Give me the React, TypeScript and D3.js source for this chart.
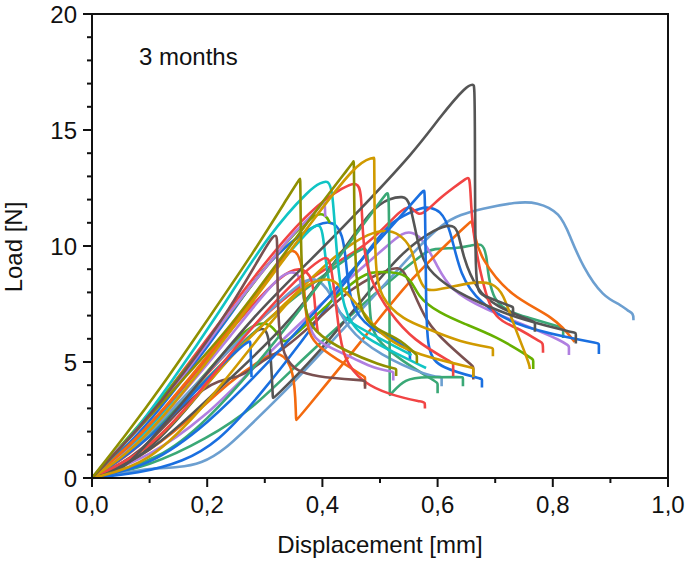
import React from "react";
import * as d3 from "d3";

type P = [number, number];
const xTicks = [0, 0.2, 0.4, 0.6, 0.8, 1.0];
const yTicks = [0, 5, 10, 15, 20];
const xMinor = [0.1, 0.3, 0.5, 0.7, 0.9];
const yMinor = [1,2,3,4,6,7,8,9,11,12,13,14,16,17,18,19];

const lightBlue: P[] = [[0,0],[0.05,0.2],[0.1,0.42],[0.15,0.45],[0.19,0.62],[0.23,1.2],[0.28,2.4],[0.35,4.1],[0.42,6],[0.5,8.1],[0.56,9.8],[0.61,11],[0.64,11.35],[0.674,11.6],[0.738,11.9],[0.772,11.9],[0.813,11.45],[0.83,10.4],[0.852,9.1],[0.887,7.8],[0.92,7.45],[0.93,7.2],[0.94,7.1],[0.94,6.8]];
const lightBlue2: P[] = [[0,0],[0.05,0.8],[0.12,2.4],[0.2,4.6],[0.309,7.24],[0.36,8.4],[0.387,8.7],[0.413,8.1],[0.442,6.4],[0.5,5.3],[0.582,4.4],[0.607,4.35],[0.607,4.35],[0.607,3.95]];
const blueLate: P[] = [[0,0],[0.08,0.2],[0.16,0.7],[0.22,1.6],[0.28,3.2],[0.384,6.5],[0.5,10.56],[0.53,11.2],[0.575,11.7],[0.587,11.64],[0.604,11.55],[0.622,10.8],[0.639,8.67],[0.674,7.54],[0.731,6.6],[0.83,6.03],[0.88,5.8],[0.88,5.8],[0.88,5.35]];
const grayBig: P[] = [[0,0],[0.05,0.3],[0.083,1.1],[0.17,3.6],[0.28,7],[0.384,9.5],[0.465,11.55],[0.561,14.1],[0.604,15.56],[0.651,16.94],[0.662,16.95],[0.664,16.95],[0.665,15],[0.665,8.1],[0.674,7.9],[0.731,7.37],[0.731,7.37],[0.731,7]];
const olive1: P[] = [[0,0],[0.06,1.9],[0.12,3.9],[0.2,6.8],[0.28,9.7],[0.35,12.5],[0.361,12.9],[0.361,12.9],[0.362,12.9],[0.363,7.5],[0.384,6.25],[0.442,5.45],[0.5,4.87],[0.528,4.7],[0.528,4.7],[0.528,4.4]];
const olive2: P[] = [[0,0],[0.08,2.1],[0.16,4.3],[0.24,6.5],[0.32,9.2],[0.4,11.9],[0.45,13.5],[0.454,13.65],[0.454,13.65],[0.455,13.65],[0.456,8],[0.477,6.5],[0.53,6.1],[0.564,5.3],[0.564,5.3],[0.564,4.95]];
const gold1: P[] = [[0,0],[0.06,1],[0.12,2.5],[0.2,5],[0.3,8.3],[0.38,11],[0.46,13.6],[0.488,13.8],[0.49,13.8],[0.49,13.8],[0.491,9],[0.5,7.8],[0.54,6.8],[0.587,6.4],[0.639,5.86],[0.696,5.6],[0.696,5.6],[0.696,5.25]];
const gold2: P[] = [[0,0],[0.08,0.9],[0.16,2.8],[0.24,5.3],[0.34,7.6],[0.425,9.7],[0.483,10.6],[0.517,10.7],[0.54,10.4],[0.557,9.8],[0.564,8.84],[0.575,8.2],[0.587,8],[0.665,8.5],[0.696,8.4],[0.714,7.97],[0.731,6.67],[0.755,5.2],[0.76,4.8],[0.76,4.7]];
const gold3: P[] = [[0,0],[0.1,0.6],[0.2,3.2],[0.3,6.4],[0.367,8.4],[0.413,8.66],[0.43,8.3],[0.465,7.37],[0.49,6.5],[0.523,5.8],[0.57,5.3],[0.627,4.95],[0.662,4.74],[0.662,4.74],[0.662,4.35]];
const brownEarly: P[] = [[0,0],[0.08,2.1],[0.16,4.5],[0.24,7.3],[0.3,9.9],[0.315,10.45],[0.32,10.45],[0.322,10.3],[0.322,6],[0.34,5],[0.355,4.65],[0.384,4.37],[0.474,4.2],[0.474,4.2],[0.474,3.85]];
const brownMid: P[] = [[0,0],[0.08,0.9],[0.17,3.5],[0.222,4.27],[0.257,4.3],[0.304,5.2],[0.33,5.5],[0.378,6.5],[0.453,8.3],[0.523,9.1],[0.54,9.05],[0.555,8.2],[0.581,6.67],[0.616,5.8],[0.662,4.8],[0.662,4.8],[0.662,4.25]];
const cyan1: P[] = [[0,0],[0.06,1.5],[0.14,4.2],[0.22,7.1],[0.309,10.6],[0.382,12.54],[0.396,12.7],[0.41,12.85],[0.418,12.4],[0.424,9.8],[0.436,7.1],[0.465,6.16],[0.517,5.5],[0.58,4.74]];
const cyan2: P[] = [[0,0],[0.08,1.5],[0.16,3.9],[0.24,6.5],[0.32,9.1],[0.37,10.5],[0.387,10.9],[0.396,10.9],[0.401,10.56],[0.408,8.8],[0.42,7.4],[0.44,6.8],[0.5,6],[0.555,5.3]];
const redA: P[] = [[0,0],[0.05,1.3],[0.1,2.7],[0.2,6],[0.3,9.3],[0.38,11.6],[0.44,12.6],[0.46,12.75],[0.468,12.4],[0.47,10],[0.483,8.5],[0.517,7.1],[0.557,5.95],[0.627,4.95],[0.627,4.95],[0.627,4.4]];
const redB: P[] = [[0,0],[0.1,1.2],[0.18,3.5],[0.28,6.6],[0.36,8.7],[0.4,9.5],[0.413,9.55],[0.42,8.2],[0.427,6.7],[0.436,5.1],[0.47,4.1],[0.517,3.58],[0.575,3.27],[0.578,3.27],[0.578,3]];
const redC: P[] = [[0,0],[0.06,1.2],[0.16,3.9],[0.26,7],[0.33,8.8],[0.361,9.1],[0.384,8.75],[0.388,7],[0.392,6.3]];
const red2: P[] = [[0,0],[0.08,1.2],[0.16,3.4],[0.24,5.6],[0.32,7.5],[0.4,9],[0.48,10],[0.54,11.7],[0.555,11.7],[0.566,11.3],[0.581,11.5],[0.604,12.07],[0.627,12.5],[0.651,12.95],[0.655,12.95],[0.657,12.5],[0.66,10.7],[0.679,8.2],[0.7,6.8],[0.738,6.5],[0.778,5.86],[0.783,5.86],[0.783,5.4]];
const blueSharp: P[] = [[0,0],[0.1,0.5],[0.2,2.3],[0.3,4.8],[0.418,8],[0.522,10.9],[0.575,12.4],[0.577,12.4],[0.578,12.2],[0.58,8],[0.581,5.4],[0.604,4.74],[0.677,4.27],[0.677,4.27],[0.677,3.9]];
const blue2: P[] = [[0,0],[0.08,1.8],[0.16,4.3],[0.24,7],[0.3,9.2],[0.37,10.7],[0.416,11.2],[0.436,10.55],[0.442,9.1],[0.448,7.4],[0.483,6.4],[0.52,6.1],[0.549,5.5],[0.552,5.5],[0.552,5.1]];
const blueEarly: P[] = [[0,0],[0.1,1.6],[0.2,4.3],[0.26,5.7],[0.274,5.9],[0.275,5.9],[0.276,5],[0.277,4.35]];
const grayMid: P[] = [[0,0],[0.1,1],[0.2,3.4],[0.338,6.5],[0.425,9.4],[0.488,11.7],[0.517,12.05],[0.54,12.15],[0.552,11.98],[0.566,10],[0.581,8.97],[0.627,8.1],[0.674,7.54],[0.731,6.94],[0.83,6.3],[0.84,6.25],[0.84,6.25],[0.84,5.8]];
const gray2: P[] = [[0,0],[0.08,0.7],[0.16,2.8],[0.257,5.8],[0.297,6.65],[0.309,6.1],[0.314,3.45],[0.314,3.45],[0.316,3.45],[0.384,5.1],[0.483,8.1],[0.54,9.8],[0.6,10.8],[0.622,10.9],[0.635,10.8],[0.644,9.5],[0.668,8.1],[0.7,7.4],[0.769,6.72],[0.769,6.72],[0.769,6.3]];
const orangeMid: P[] = [[0,0],[0.08,1.7],[0.16,4],[0.24,6.5],[0.3,8.4],[0.33,9.5],[0.349,9.95],[0.365,9.4],[0.37,7.5],[0.375,6.16],[0.396,5.6],[0.436,4.95],[0.474,4.35],[0.474,4.35],[0.474,3.95]];
const orangeLong: P[] = [[0,0],[0.08,0.8],[0.16,2.3],[0.24,4.2],[0.3,5.2],[0.326,5.5],[0.352,4.7],[0.354,2.5],[0.355,2.5],[0.356,2.5],[0.488,6.5],[0.549,8.5],[0.659,11.1],[0.659,11.1],[0.665,10.4],[0.674,9.5],[0.726,7.8],[0.804,6.94],[0.838,5.86]];
const green1: P[] = [[0,0],[0.08,2.2],[0.16,4.6],[0.24,7.1],[0.32,9.7],[0.384,11.4],[0.405,11.4],[0.413,11]];
const green2: P[] = [[0,0],[0.08,1.4],[0.16,3.4],[0.252,6.1],[0.286,6.7],[0.309,6.67],[0.326,6.1],[0.332,5.8],[0.349,6.07],[0.41,7.5],[0.47,8.84],[0.5,8.9],[0.552,8.84],[0.564,7.8],[0.604,7.1],[0.644,6.67],[0.703,6.08],[0.755,5.3],[0.766,5.1],[0.766,5.1],[0.766,4.7]];
const purple1: P[] = [[0,0],[0.04,1.2],[0.069,1.7],[0.16,4.4],[0.24,7.2],[0.3,9],[0.35,10.6],[0.39,11.5],[0.403,11.95],[0.404,11.95],[0.405,11.25]];
const purple2: P[] = [[0,0],[0.08,1.4],[0.16,3.7],[0.24,6.1],[0.321,8.66],[0.344,8.9],[0.358,8.84],[0.364,8.3],[0.378,6.25],[0.396,5.8],[0.46,5.1],[0.488,4.74],[0.523,4.57],[0.523,4.57],[0.523,4.2]];
const purple3: P[] = [[0,0],[0.1,0.9],[0.2,2.7],[0.27,4.5],[0.37,6.9],[0.47,9.1],[0.512,10],[0.54,10.6],[0.557,10.6],[0.575,10.3],[0.6,9.1],[0.622,8.1],[0.679,7.3],[0.772,6.38],[0.812,5.95],[0.828,5.7],[0.828,5.7],[0.828,5.3]];
const seaGreen1: P[] = [[0,0],[0.12,0.8],[0.2,2.5],[0.28,4.7],[0.36,7.2],[0.44,9.9],[0.5,11.9],[0.512,12.3],[0.515,12.3],[0.516,11],[0.517,3.58],[0.517,3.58],[0.518,3.58],[0.543,4.3],[0.58,4.35],[0.644,4.35],[0.644,4.35],[0.644,3.95]];
const seaGreen2: P[] = [[0,0],[0.1,0.5],[0.2,1.7],[0.28,3],[0.36,5],[0.465,7.4],[0.575,9.7],[0.592,9.9],[0.634,9.9],[0.656,10],[0.677,10.15],[0.686,9.7],[0.691,7.37],[0.76,6.9],[0.818,6.47],[0.818,6.47],[0.818,6.03]];
const seaGreen3: P[] = [[0,0],[0.08,1.3],[0.16,3.3],[0.24,5.3],[0.32,7.2],[0.4,8.7],[0.47,9.95],[0.479,9.95],[0.481,8],[0.483,6.5],[0.5,5.8],[0.535,5.1],[0.6,4.1],[0.6,4.1],[0.6,3.65]];

const curves: [P[], string][] = [
  [seaGreen2, "#3aa876"], [purple3, "#b07fe0"], [lightBlue, "#6c9fd0"], [orangeLong, "#f36a0f"],
  [blueLate, "#1a6fe0"], [gray2, "#555555"], [red2, "#f14444"], [brownMid, "#7a5050"],
  [green2, "#66b000"], [seaGreen3, "#3aa876"], [gold2, "#d09a00"], [blue2, "#1a6fe0"],
  [cyan2, "#10c4c4"], [lightBlue2, "#6c9fd0"], [grayMid, "#555555"], [redC, "#f14444"], [seaGreen1, "#3aa876"],
  [blueSharp, "#1a6fe0"], [blueEarly, "#1a6fe0"], [purple2, "#b07fe0"], [orangeMid, "#f36a0f"], [redB, "#f14444"], [redA, "#f14444"],
  [grayBig, "#555555"], [green1, "#66b000"], [gold3, "#d09a00"], [purple1, "#b07fe0"], [cyan1, "#10c4c4"],
  [olive2, "#8f8f00"], [gold1, "#d09a00"], [brownEarly, "#7a5050"], [olive1, "#8f8f00"],
];

export default function App() {
  const x = d3.scaleLinear().domain([0, 1]).range([92, 668]);
  const y = d3.scaleLinear().domain([0, 20]).range([478, 14]);
  const line = d3.line<P>().x(d => x(d[0])).y(d => y(d[1])).curve(d3.curveBasis);
  const font = "'Liberation Sans', Arial, sans-serif";
  return (
    <svg width={685} height={561} style={{ position: "absolute", left: 0, top: 0, background: "#fff" }} fontFamily={font} fill="#111">
      {curves.map(([c, col], i) => (
        <path key={i} d={line(c) ?? ""} fill="none" stroke={col} strokeWidth={2.6} strokeLinejoin="round" />
      ))}
      <rect x={x(0)} y={y(20)} width={x(1) - x(0)} height={y(0) - y(20)} fill="none" stroke="#111" strokeWidth={2} />
      {xTicks.map(t => (
        <g key={t}>
          <line x1={x(t)} x2={x(t)} y1={478} y2={487} stroke="#111" strokeWidth={2} />
          <text x={x(t)} y={513} textAnchor="middle" fontSize={24}>{d3.format(".1f")(t).replace(".", ",")}</text>
        </g>
      ))}
      {xMinor.map(t => <line key={t} x1={x(t)} x2={x(t)} y1={478} y2={483} stroke="#111" strokeWidth={2} />)}
      {yTicks.map(t => (
        <g key={t}>
          <line x1={83} x2={92} y1={y(t)} y2={y(t)} stroke="#111" strokeWidth={2} />
          <text x={77} y={y(t) + 8.5} textAnchor="end" fontSize={24}>{t}</text>
        </g>
      ))}
      {yMinor.map(t => <line key={t} x1={87} x2={92} y1={y(t)} y2={y(t)} stroke="#111" strokeWidth={2} />)}
      <text x={139} y={65} fontSize={24}>3 months</text>
      <text x={380} y={552.5} textAnchor="middle" fontSize={24}>Displacement [mm]</text>
      <text transform="translate(22,247) rotate(-90)" textAnchor="middle" fontSize={24}>Load [N]</text>
    </svg>
  );
}
